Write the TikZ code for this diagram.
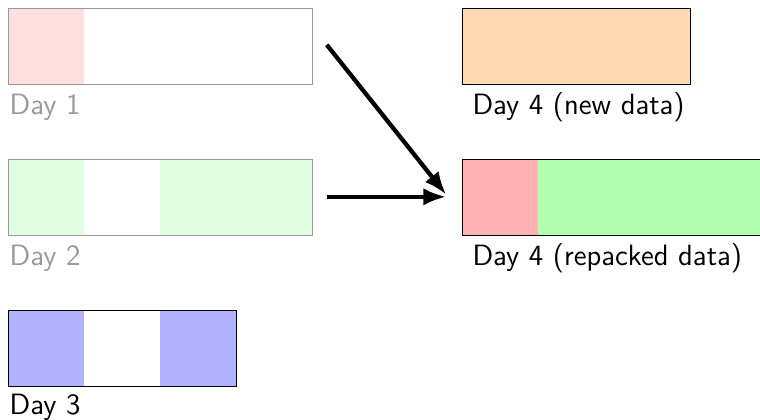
\documentclass[tikz,border=0pt]{standalone}
\usetikzlibrary{arrows.meta}
\begin{document}
\begin{tikzpicture}[
  x=1cm, y=1cm,
  faded/.style={draw=black!40, line width=0.4pt},
  solid box/.style={draw=black, line width=0.4pt},
  daylabel/.style={anchor=base west, inner sep=0pt, font=\sffamily\fontsize{11}{13}\selectfont},
  fadedlabel/.style={daylabel, text=black!40},
  move/.style={line width=1.6pt, -{Latex[length=3mm, width=2.3mm]}},
]
\useasboundingbox (0,0) rectangle (10,-5.526);

% Day 1: one used slot out of four
\fill[red!12] (0.1,-0.1) rectangle (1.1,-1.1);
\node[faded, minimum width=4cm, minimum height=1cm, anchor=north west, inner sep=0pt] (d1) at (0.1,-0.1) {};
\node[fadedlabel] (l1) at (0.12,-1.51) {Day 1};

% Day 2: slots 1, 3 and 4 used
\fill[green!12] (0.1,-2.09) rectangle (1.1,-3.09);
\fill[green!12] (2.1,-2.09) rectangle (4.1,-3.09);
\node[faded, minimum width=4cm, minimum height=1cm, anchor=north west, inner sep=0pt] (d2) at (0.1,-2.09) {};
\node[fadedlabel] (l2) at (0.12,-3.49) {Day 2};

% Day 3: slots 1 and 3 used
\fill[blue!30] (0.1,-4.08) rectangle (1.1,-5.08);
\fill[blue!30] (2.1,-4.08) rectangle (3.1,-5.08);
\node[solid box, minimum width=3cm, minimum height=1cm, anchor=north west, inner sep=0pt] (d3) at (0.1,-4.08) {};
\node[daylabel] (l3) at (0.12,-5.46) {Day 3};

% Day 4: new data
\node[solid box, fill=orange!30, minimum width=3cm, minimum height=1cm, anchor=north west, inner sep=0pt] (n4) at (6.08,-0.1) {};
\node[daylabel] (l4) at (6.21,-1.51) {Day 4 (new data)};

% Day 4: repacked data
\fill[red!30] (6.08,-2.09) rectangle (7.08,-3.09);
\fill[green!30] (7.08,-2.09) rectangle (10.08,-3.09);
\node[solid box, minimum width=4cm, minimum height=1cm, anchor=north west, inner sep=0pt] (r4) at (6.08,-2.09) {};
\node[daylabel] (l5) at (6.21,-3.49) {Day 4 (repacked data)};

% Moves into the repacked file
\coordinate (s1) at (4.3,-0.59);
\coordinate (s2) at (4.3,-2.59);
\coordinate (t) at (5.87,-2.56);
\draw[move] (s1) -- (t);
\draw[move] (s2) -- (t |- s2);
\end{tikzpicture}
\end{document}
